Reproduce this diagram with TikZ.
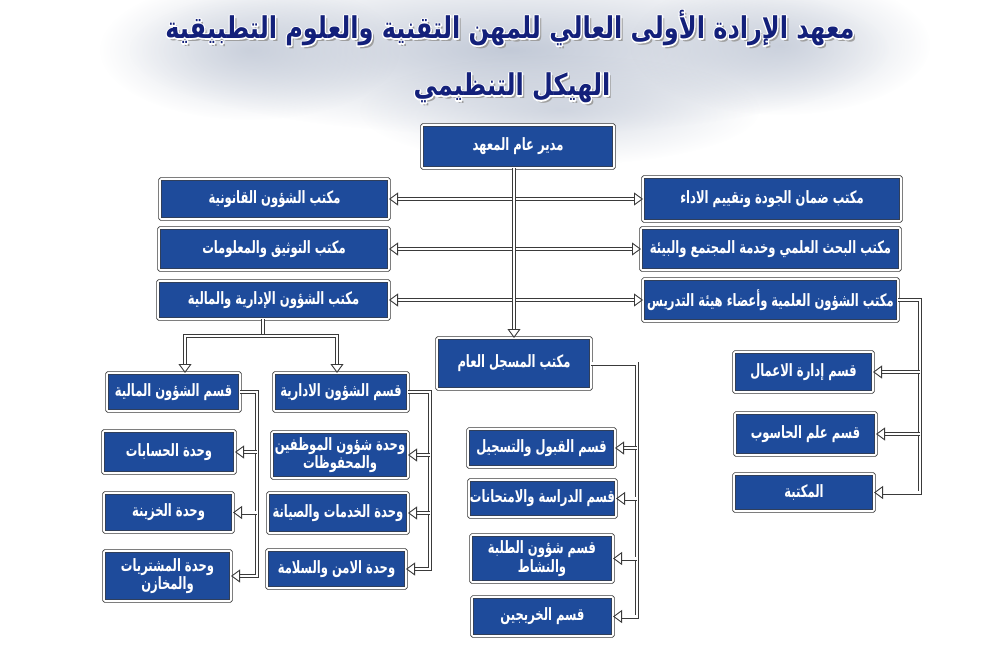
\documentclass[tikz,border=0pt]{standalone}
\usepackage{fontspec}
\usetikzlibrary{arrows.meta,calc,fadings}
\TeXXeTstate=1
\newfontfamily\arabicfont[Script=Arabic,FakeStretch=0.68]{DejaVu Sans}
\newfontfamily\titlefont[Script=Arabic,FakeStretch=0.8]{DejaVu Sans}
\newcommand{\ar}[1]{\beginR#1\endR}
\newcommand{\strokeon}{\special{pdf:literal direct 1 Tr 2.6 w 1 j}}
\newcommand{\strokeoff}{\special{pdf:literal direct 0 Tr}}
\definecolor{boxblue}{HTML}{1E4B9B}
\definecolor{navy}{HTML}{13207A}
\definecolor{cloud}{HTML}{BCC4D3}
\definecolor{edge}{HTML}{3A3A3A}
\tikzfading[name=cloudfade, inner color=transparent!0, outer color=transparent!100]
\newcommand{\obox}[6]{\node[box,minimum width={(#4)-(#2)},minimum height={(#5)-(#3)}] (#1) at ({((#2)+(#4))/2},{((#3)+(#5))/2}) {#6};}
\begin{document}
\begin{tikzpicture}[x=1pt,y=-1pt,
 box/.style={draw=edge, line width=0.8pt, double=white, double distance=1.6pt, fill=boxblue, text=white, font=\arabicfont\bfseries\fontsize{17}{18.5}\selectfont, align=center, inner sep=1pt, outer sep=0pt, rounded corners=1pt},
 conn/.style={draw=edge, line width=0.9pt, double=white, double distance=2.2pt},
 arr/.style={-{Triangle[open,length=9pt,width=13pt]}},
 barr/.style={{Triangle[open,length=9pt,width=13pt]}-{Triangle[open,length=9pt,width=13pt]}},
 ttl/.style={font=\titlefont\bfseries\fontsize{30}{32}\selectfont, inner sep=0pt}]
\useasboundingbox (0,0) rectangle (1000,650);
\fill[white] (0,0) rectangle (1000,650);
% clouds
\fill[cloud, path fading=cloudfade, opacity=0.9] (510,50) ellipse [x radius=380, y radius=85];
\fill[cloud, path fading=cloudfade, opacity=0.7] (250,50) ellipse [x radius=150, y radius=70];
\fill[cloud, path fading=cloudfade, opacity=0.7] (780,45) ellipse [x radius=150, y radius=70];
\fill[cloud, path fading=cloudfade, opacity=0.6] (560,110) ellipse [x radius=200, y radius=55];
% title
\node[ttl,text=gray!75] (t1s) at (512.5,31) {\ar{معهد الإرادة الأولى العالي للمهن التقنية والعلوم التطبيقية}};
\node[ttl,text=gray!75] (t2s) at (514.5,91) {\ar{الهيكل التنظيمي}};
\node[ttl,text=white] (t1o) at (510,28) {\strokeon\ar{معهد الإرادة الأولى العالي للمهن التقنية والعلوم التطبيقية}\strokeoff};
\node[ttl,text=white] (t2o) at (512,88) {\strokeon\ar{الهيكل التنظيمي}\strokeoff};
\node[ttl,text=navy] (t1) at (510,28) {\ar{معهد الإرادة الأولى العالي للمهن التقنية والعلوم التطبيقية}};
\node[ttl,text=navy] (t2) at (512,88) {\ar{الهيكل التنظيمي}};
% boxes
\obox{dir}{422}{125}{614}{168}{\ar{مدير عام المعهد}}
\obox{l1}{160}{179}{389}{219}{\ar{مكتب الشؤون القانونية}}
\obox{l2}{159}{228}{389}{270}{\ar{مكتب التوثيق والمعلومات}}
\obox{l3}{158}{281}{389}{319}{\ar{مكتب الشؤون الإدارية والمالية}}
\obox{r1}{643}{177}{901}{221}{\ar{مكتب ضمان الجودة وتقييم الاداء}}
\obox{r2}{641}{228}{900}{270}{\ar{مكتب البحث العلمي وخدمة المجتمع والبيئة}}
\obox{r3}{643}{279}{898}{321}{\ar{مكتب الشؤون العلمية وأعضاء هيئة التدريس}}
\obox{reg}{437}{338}{591}{389}{\ar{مكتب المسجل العام}}
\obox{fin}{107}{373}{240}{411}{\ar{قسم الشؤون المالية}}
\obox{hr}{274}{373}{408}{411}{\ar{قسم الشؤون الادارية}}
\obox{acc}{103}{431}{235}{473}{\ar{وحدة الحسابات}}
\obox{tre}{104}{493}{233}{532}{\ar{وحدة الخزينة}}
\obox{pur}{104}{551}{231}{601}{\ar{وحدة المشتريات}\\\ar{والمخازن}}
\obox{emp}{272}{432}{408}{478}{\ar{وحدة شؤون الموظفين}\\\ar{والمحفوظات}}
\obox{svc}{268}{493}{408}{533}{\ar{وحدة الخدمات والصيانة}}
\obox{sec}{267}{550}{406}{588}{\ar{وحدة الامن والسلامة}}
\obox{q1}{468}{429}{615}{467}{\ar{قسم القبول والتسجيل}}
\obox{q2}{470}{480}{615}{517}{\ar{قسم الدراسة والامتحانات}}
\obox{q3}{471}{535}{613}{582}{\ar{قسم شؤون الطلبة}\\\ar{والنشاط}}
\obox{q4}{472}{597}{613}{636}{\ar{قسم الخريجين}}
\obox{biz}{734}{352}{873}{392}{\ar{قسم إدارة الاعمال}}
\obox{cs}{735}{413}{876}{455}{\ar{قسم علم الحاسوب}}
\obox{lib}{734}{474}{874}{511}{\ar{المكتبة}}
% bus coordinates
\coordinate (trunk) at (514,0);
\coordinate (finbus) at (257,0);
\coordinate (hrbus) at (430,0);
\coordinate (regbus) at (637,0);
\coordinate (acadbus) at (920,0);
\coordinate (split) at (263,336);
\coordinate (finx) at (185,0);
\coordinate (hrx) at (337,0);
% connectors
\draw[conn,barr] (l1.east) -- (r1.west);
\draw[conn,barr] (l2.east) -- (r2.west);
\draw[conn,barr] (l3.east) -- (r3.west);
\draw[conn,arr] (dir.south -| trunk) -- (reg.north -| trunk);
\draw[conn] (l3.south -| split) -- (split);
\draw[conn,arr] (split) -| (fin.north -| finx);
\draw[conn,arr] (split) -| (hr.north -| hrx);
\draw[conn,arr] (fin.east) -- (fin.east -| finbus) -- (finbus |- pur.east) -- (pur.east);
\draw[conn,arr] (finbus |- acc.east) -- (acc.east);
\draw[conn,arr] (finbus |- tre.east) -- (tre.east);
\draw[conn,arr] (hr.east) -- (hr.east -| hrbus) -- (hrbus |- sec.east) -- (sec.east);
\draw[conn,arr] (hrbus |- emp.east) -- (emp.east);
\draw[conn,arr] (hrbus |- svc.east) -- (svc.east);
\draw[conn,arr] (reg.east) -- (reg.east -| regbus) -- (regbus |- q4.east) -- (q4.east);
\draw[conn,arr] (regbus |- q1.east) -- (q1.east);
\draw[conn,arr] (regbus |- q2.east) -- (q2.east);
\draw[conn,arr] (regbus |- q3.east) -- (q3.east);
\draw[conn,arr] (r3.east) -- (r3.east -| acadbus) -- (acadbus |- lib.east) -- (lib.east);
\draw[conn,arr] (acadbus |- biz.east) -- (biz.east);
\draw[conn,arr] (acadbus |- cs.east) -- (cs.east);
\end{tikzpicture}
\end{document}
